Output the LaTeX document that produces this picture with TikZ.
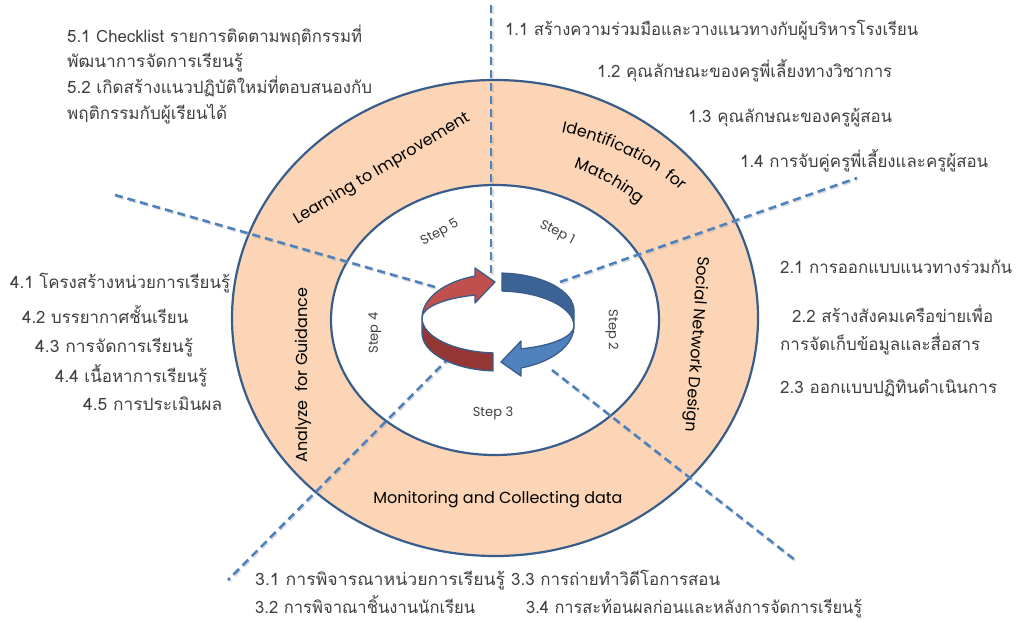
\documentclass[tikz,border=0pt]{standalone}
\usepackage{graphicx}
\usepackage{fontspec}
\newfontfamily\thaifont[Script=Thai]{Loma}
\newfontfamily\labfont{Poppins}
\usetikzlibrary{decorations.text}
\definecolor{ringfill}{HTML}{FBD5B5}
\definecolor{ringline}{HTML}{385D8A}
\definecolor{dashblue}{HTML}{4F81BD}
\definecolor{txtgray}{HTML}{404040}
\definecolor{redlight}{HTML}{C0504D}
\definecolor{reddark}{HTML}{943634}
\definecolor{bluedark}{HTML}{3B6395}
\definecolor{bluelight}{HTML}{4F81BD}
\newcommand\seglabfont{\labfont\fontsize{16}{19}\selectfont}
\newcommand\itm[2]{\resizebox{#1pt}{\height}{#2}}
\begin{document}
\begin{tikzpicture}[x=1pt,y=1pt,
  item/.style={anchor=base west, inner sep=0pt, font=\thaifont\fontsize{17}{20}\selectfont, text=txtgray},
  ringpath/.style={draw=ringline, line width=2.2pt},
  sep/.style={draw=dashblue, line width=2.6pt, dash pattern=on 8pt off 5pt},
  sepshadow/.style={draw=black!35, opacity=0.35, line width=2.6pt, dash pattern=on 8pt off 5pt},
  steplab/.style={inner sep=0pt, font=\labfont\fontsize{13}{15}\selectfont, text=txtgray},
  seglab/.style={inner sep=0pt, font=\seglabfont, text=black},
  band/.style={draw=ringline, line width=1.3pt, line join=round}]
\useasboundingbox (0,0) rectangle (1019,-623);
\fill[white] (0,0) rectangle (1019,-623);
% rings
\path[ringpath, fill=ringfill] (495,-318) ellipse [x radius=263, y radius=238];
\path[ringpath, fill=white] (495,-320) ellipse [x radius=164, y radius=135];
% dashed separators
\coordinate (s1a) at (491,-5);   \coordinate (s1b) at (491,-275);
\coordinate (s2a) at (560,-282); \coordinate (s2b) at (857,-178);
\coordinate (s3a) at (552,-370); \coordinate (s3b) at (795,-560);
\coordinate (s4a) at (450,-357); \coordinate (s4b) at (228,-580);
\coordinate (s5a) at (435,-287); \coordinate (s5b) at (115,-195);
\foreach \a/\b in {s1a/s1b,s2a/s2b,s3a/s3b,s4a/s4b,s5a/s5b}{
  \draw[sepshadow, transform canvas={shift={(1.2pt,-1.5pt)}}] (\a) -- (\b);
  \draw[sep] (\a) -- (\b);
}
% circular arrows
\path[band, fill=redlight] (422,-318)
  arc[start angle=180, end angle=107.6, x radius=76, y radius=44]
  -- (475,-268) -- (495,-282) -- (475,-303) -- (475,-295.1)
  arc[start angle=107.6, end angle=180, x radius=76, y radius=24] -- cycle;
\path[band, fill=bluedark] (502,-273.1)
  arc[start angle=87, end angle=0, x radius=76, y radius=38]
  -- (574,-326)
  arc[start angle=0, end angle=87, x radius=76, y radius=35] -- cycle;
\path[band, fill=reddark] (422,-318)
  arc[start angle=180, end angle=266.2, x radius=76, y radius=35]
  -- (493,-370.9)
  arc[start angle=266.2, end angle=180, x radius=76, y radius=38] -- cycle;
\path[band, fill=bluelight] (574,-326)
  arc[start angle=0, end angle=-72.4, x radius=76, y radius=24]
  -- (521,-341) -- (501,-362) -- (521,-376) -- (521,-367.9)
  arc[start angle=-72.4, end angle=0, x radius=76, y radius=44] -- cycle;
% ring labels
\node[seglab, rotate=31] (learn) at (382,-169) {Learning to Improvement};
\path[decorate, decoration={text along path, text align=center,
   text={|\seglabfont|Identification{\ \ }for}}]
  (495,-318) ++(86:248 and 193) arc[start angle=86, end angle=28, x radius=248, y radius=193];
\path[decorate, decoration={text along path, text align=center,
   text={|\seglabfont|Matching}}]
  (495,-318) ++(80:202 and 163) arc[start angle=80, end angle=30, x radius=202, y radius=163];
\node[seglab, rotate=-94] (social) at (696,-344) {Social Network Design};
\node[seglab] (monitor) at (498,-500) {Monitoring and Collecting data};
\node[seglab, rotate=90] (analyze) at (303,-375) {Analyze\ \ for Guidance};
% step labels
\node[steplab, rotate=28] (st5) at (440,-233) {Step 5};
\node[steplab, rotate=-27] (st1) at (557,-233) {Step 1};
\node[steplab, rotate=-90] (st2) at (612,-330) {Step 2};
\node[steplab] (st3) at (493,-413) {Step 3};
\node[steplab, rotate=90] (st4) at (375,-333) {Step 4};
% item texts
\node[item] (t51a) at (67,-42.5) {\itm{295}{5.1 Checklist รายการติดตามพฤติกรรมที่}};
\node[item] (t51b) at (67,-67.5) {\itm{176}{พัฒนาการจัดการเรียนรู้}};
\node[item] (t52a) at (67,-93.5) {\itm{305}{5.2 เกิดสร้างแนวปฏิบัติใหม่ที่ตอบสนองกับ}};
\node[item] (t52b) at (67,-119.5) {\itm{160}{พฤติกรรมกับผู้เรียนได้}};
\node[item] (t11) at (505,-35.5) {\itm{413}{1.1 สร้างความร่วมมือและวางแนวทางกับผู้บริหารโรงเรียน}};
\node[item] (t12) at (597,-77.5) {\itm{295}{1.2 คุณลักษณะของครูพี่เลี้ยงทางวิชาการ}};
\node[item] (t13) at (688,-122.5) {\itm{204}{1.3 คุณลักษณะของครูผู้สอน}};
\node[item] (t14) at (740,-167.5) {\itm{248}{1.4 การจับคู่ครูพี่เลี้ยงและครูผู้สอน}};
\node[item] (t21) at (780,-273.5) {\itm{232}{2.1 การออกแบบแนวทางร่วมกัน}};
\node[item] (t22a) at (792,-322.5) {\itm{201}{2.2 สร้างสังคมเครือข่ายเพื่อ}};
\node[item] (t22b) at (780,-350.5) {\itm{200}{การจัดเก็บข้อมูลและสื่อสาร}};
\node[item] (t23) at (780,-393.5) {\itm{217}{2.3 ออกแบบปฏิทินดำเนินการ}};
\node[item] (t41) at (10,-288.5) {\itm{220}{4.1 โครงสร้างหน่วยการเรียนรู้}};
\node[item] (t42) at (22,-323.5) {\itm{166}{4.2 บรรยากาศชั้นเรียน}};
\node[item] (t43) at (35,-352.5) {\itm{158}{4.3 การจัดการเรียนรู้}};
\node[item] (t44) at (55,-382.5) {\itm{152}{4.4 เนื้อหาการเรียนรู้}};
\node[item] (t45) at (83,-410.5) {\itm{139}{4.5 การประเมินผล}};
\node[item] (t31) at (255,-585.5) {\itm{250}{3.1 การพิจารณาหน่วยการเรียนรู้}};
\node[item] (t33) at (511,-585.5) {\itm{209}{3.3 การถ่ายทำวิดีโอการสอน}};
\node[item] (t32) at (255,-613.5) {\itm{220}{3.2 การพิจาณาชิ้นงานนักเรียน}};
\node[item] (t34) at (526,-613.5) {\itm{336}{3.4 การสะท้อนผลก่อนและหลังการจัดการเรียนรู้}};
\end{tikzpicture}
\end{document}
